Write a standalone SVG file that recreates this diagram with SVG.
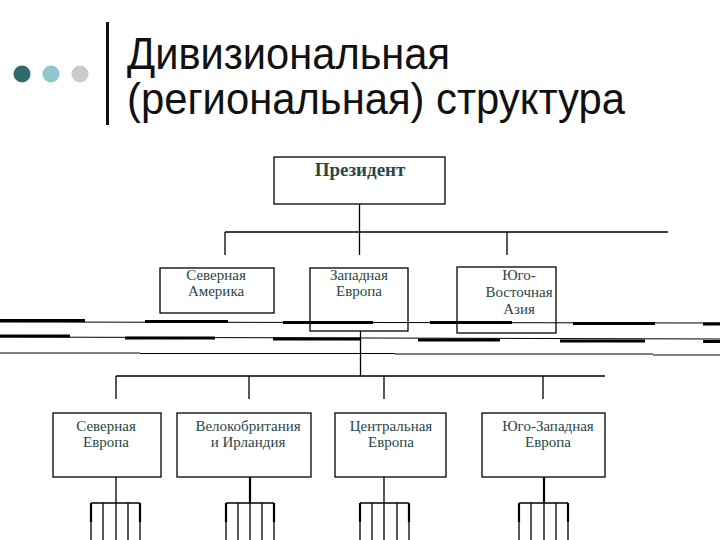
<svg xmlns="http://www.w3.org/2000/svg" width="720" height="540" viewBox="0 0 720 540">
<style>
.box{fill:#fff;stroke:#000;stroke-width:1.3}
.lbl{font-family:"Liberation Serif","DejaVu Serif","Times New Roman",serif;font-size:15px;fill:#2a4747;text-anchor:middle}
.ttl{font-family:"Liberation Sans",Arial,sans-serif;font-size:44px;fill:#111}
.c{stroke:#000;stroke-width:1.3;fill:none}
.t{stroke:#000;stroke-width:1;fill:none}
.k{stroke:#000;stroke-width:3;fill:none}
.m{stroke:#000;stroke-width:2.2;fill:none}
</style>
<rect width="720" height="540" fill="#fff"/>
<g id="header">
<circle cx="22" cy="74" r="8.5" fill="#2f6b6b"/>
<circle cx="51" cy="74" r="8.5" fill="#8fc7cc"/>
<circle cx="80" cy="74" r="8.5" fill="#c8cacb"/>
<rect x="106" y="22" width="3" height="103" fill="#111"/>
<text class="ttl" x="127" y="69" textLength="323" lengthAdjust="spacingAndGlyphs">Дивизиональная</text>
<text class="ttl" x="127" y="114" textLength="498" lengthAdjust="spacingAndGlyphs">(региональная) структура</text>
</g>
<g id="scan-lines">
<line class="t" x1="0" y1="322" x2="720" y2="323"/>
<line class="k" x1="0" y1="320.5" x2="85" y2="320.5"/>
<line class="k" x1="145" y1="321.5" x2="228" y2="321.5"/>
<line class="k" x1="283" y1="322.5" x2="373" y2="322.5"/>
<line class="k" x1="430" y1="322.5" x2="512" y2="322.5"/>
<line class="k" x1="573" y1="323.5" x2="655" y2="323.5"/>
<line class="k" x1="703" y1="324" x2="720" y2="324"/>
<line class="t" x1="0" y1="337" x2="720" y2="339"/>
<line class="k" x1="0" y1="336" x2="70" y2="336"/>
<line class="k" x1="125" y1="338" x2="215" y2="338"/>
<line class="k" x1="273" y1="339" x2="360" y2="339"/>
<line class="k" x1="418" y1="340" x2="500" y2="340"/>
<line class="k" x1="560" y1="341" x2="645" y2="341"/>
<line class="k" x1="703" y1="341.5" x2="720" y2="341.5"/>
<line class="t" x1="0" y1="353" x2="140" y2="353"/>
<line class="t" x1="140" y1="353.5" x2="395" y2="353.5"/>
<line class="t" x1="395" y1="354" x2="653" y2="354"/>
<line class="t" x1="653" y1="355" x2="720" y2="355"/>
</g>
<g id="connectors">
<path class="c" d="M359.5 204 V232 M225 232 H668 M225 232 V255 M359.5 232 V255 M507 232 V255"/>
<path class="c" d="M360.5 331 V376 M116 376 H605 M116 376 V399 M249 376 V399 M384 376 V399 M543 376 V399"/>
<path class="c" d="M116 477 V503 M91 503 H140 M91 503 V540 M103 503 V540 M116 503 V540 M128 503 V540 M140 503 V540"/>
<path class="m" d="M91 503 V522 M140 503 V522"/>
<path class="m" d="M250 477 V503"/>
<path class="c" d="M226 503 H274 M226 503 V540 M238 503 V540 M250 503 V540 M262 503 V540 M274 503 V540"/>
<path class="m" d="M226 503 V522 M274 503 V522"/>
<path class="c" d="M384 477 V503 M360 503 H409 M360 503 V540 M372 503 V540 M384 503 V540 M397 503 V540 M409 503 V540"/>
<path class="m" d="M360 503 V522 M409 503 V522"/>
<path class="m" d="M544 477 V503"/>
<path class="c" d="M519 503 H568 M519 503 V540 M531 503 V540 M544 503 V540 M556 503 V540 M568 503 V540"/>
<path class="m" d="M519 503 V522 M568 503 V522"/>
</g>
<g id="president">
<rect class="box" x="274" y="157" width="171" height="47"/>
<text class="lbl" x="360" y="176" style="font-weight:bold;font-size:19px">Президент</text>
</g>
<g id="north-america">
<rect class="box" x="160" y="268" width="114" height="45"/>
<text class="lbl" x="216" y="280">Северная</text>
<text class="lbl" x="216" y="296">Америка</text>
</g>
<g id="western-europe">
<rect class="box" x="310" y="268" width="98" height="63" style="fill:none"/>
<text class="lbl" x="359" y="280">Западная</text>
<text class="lbl" x="359" y="296">Европа</text>
</g>
<g id="se-asia">
<rect class="box" x="457" y="267" width="99" height="66" style="fill:none"/>
<text class="lbl" x="519" y="280">Юго-</text>
<text class="lbl" x="519" y="297">Восточная</text>
<text class="lbl" x="519" y="314">Азия</text>
</g>
<g id="north-europe">
<rect class="box" x="53" y="413" width="108" height="64"/>
<text class="lbl" x="106" y="431">Северная</text>
<text class="lbl" x="106" y="447">Европа</text>
</g>
<g id="uk-ireland">
<rect class="box" x="177" y="413" width="134" height="64"/>
<text class="lbl" x="248" y="431">Велокобритания</text>
<text class="lbl" x="248" y="447">и Ирландия</text>
</g>
<g id="central-europe">
<rect class="box" x="335" y="413" width="111" height="64"/>
<text class="lbl" x="391" y="431">Центральная</text>
<text class="lbl" x="391" y="447">Европа</text>
</g>
<g id="sw-europe">
<rect class="box" x="482" y="413" width="123" height="64"/>
<text class="lbl" x="548" y="431">Юго-Западная</text>
<text class="lbl" x="548" y="447">Европа</text>
</g>
</svg>
